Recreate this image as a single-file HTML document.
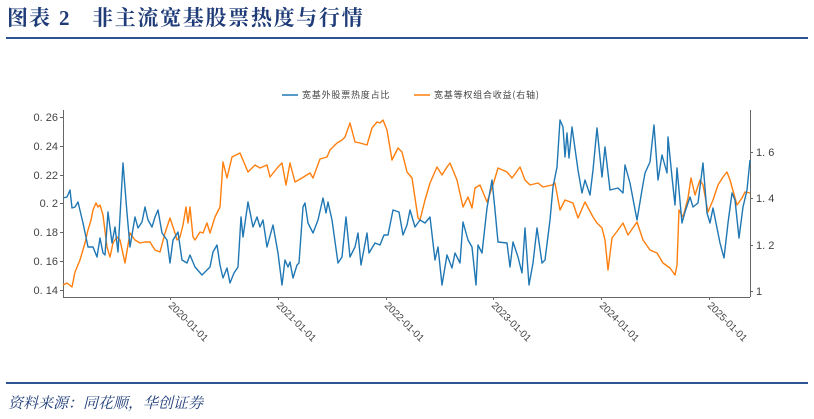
<!DOCTYPE html>
<html><head><meta charset="utf-8"><style>
body{margin:0;width:814px;height:414px;background:#fff;overflow:hidden;font-family:"Liberation Sans","Noto Sans CJK SC",sans-serif;}
</style></head><body>
<svg width="814" height="414" viewBox="0 0 814 414" xmlns="http://www.w3.org/2000/svg">
<g font-size="21" font-weight="bold" fill="#1f3c78" font-family="Liberation Serif,Noto Serif CJK SC,serif">
<text x="7" y="25" letter-spacing="1">图表</text>
<text x="59" y="25">2</text>
<text x="92" y="25" letter-spacing="1.7">非主流宽基股票热度与行情</text>
</g>
<rect x="6" y="37" width="802" height="2" fill="#2a5592"/>
<rect x="6" y="382" width="802" height="2" fill="#2a5592"/>
<text x="8" y="408" font-size="15" font-style="italic" fill="#1f3c78" font-family="Noto Serif CJK SC,serif">资料来源：同花顺，华创证券</text>
<g font-size="9" fill="#444" font-family="Noto Sans CJK SC,sans-serif">
<line x1="282" y1="95" x2="298" y2="95" stroke="#1f77b4" stroke-width="1.5"/>
<text x="302" y="98" letter-spacing="0.8">宽基外股票热度占比</text>
<line x1="414" y1="95" x2="430" y2="95" stroke="#ff7f0e" stroke-width="1.5"/>
<text x="434" y="98" letter-spacing="0.8">宽基等权组合收益(右轴)</text>
</g>
<g stroke="#666" stroke-width="1" fill="none">
<line x1="63.5" y1="110" x2="63.5" y2="297"/>
<line x1="63" y1="297.5" x2="750" y2="297.5"/>
<line x1="750.5" y1="110" x2="750.5" y2="297"/>
<path d="M60 117.5h3M60 146.5h3M60 175.5h3M60 203.5h3M60 232.5h3M60 261.5h3M60 290.5h3M750 152.5h3M750 198.5h3M750 245.5h3M750 291.5h3M170.5 297v3M278.5 297v3M386.5 297v3M493.5 297v3M601.5 297v3M709.5 297v3"/>
</g>
<g font-size="11" fill="#444" text-anchor="end">
<text x="58" y="121">0. 26</text><text x="58" y="150">0. 24</text><text x="58" y="179">0. 22</text><text x="58" y="207">0. 2</text><text x="58" y="236">0. 18</text><text x="58" y="265">0. 16</text><text x="58" y="294">0. 14</text>
</g>
<g font-size="11" fill="#444">
<text x="756" y="156">1. 6</text><text x="756" y="202">1. 4</text><text x="756" y="249">1. 2</text><text x="756" y="295">1</text>
</g>
<g font-size="10" fill="#444">
<text transform="translate(168,306) rotate(45)">2020-01-01</text>
<text transform="translate(276,306) rotate(45)">2021-01-01</text>
<text transform="translate(384,306) rotate(45)">2022-01-01</text>
<text transform="translate(491,306) rotate(45)">2023-01-01</text>
<text transform="translate(599,306) rotate(45)">2024-01-01</text>
<text transform="translate(707,306) rotate(45)">2025-01-01</text>
</g>
<polyline fill="none" stroke="#ff7f0e" stroke-width="1.4" stroke-linejoin="round" points="63,285 67,283 72,287 75,272 80,260 85,243 88,230 91,220 93,210 96,203 98,207 100,205 103,215 107,247 110,257 113,243 117,237 120,240 125,263 130,233 135,240 140,243 145,242 150,242 155,250 160,252 165,233 170,218 175,233 177,240 180,237 183,225 186,207 188,223 190,207 193,237 195,240 200,232 203,233 207,223 210,233 215,217 220,207 223,162 227,178 232,157 240,153 248,172 255,165 260,168 267,165 270,177 278,167 282,163 286,185 290,163 295,182 302,178 310,173 313,178 320,159 327,157 330,150 337,143 342,140 345,137 350,123 355,142 360,143 367,145 372,128 377,122 380,123 383,120 387,130 392,160 398,148 402,152 407,172 412,178 418,218 420,220 425,200 430,183 437,167 442,175 447,167 450,163 457,180 463,207 468,197 472,208 475,188 480,185 487,202 493,185 498,168 507,172 512,178 520,167 525,180 530,185 538,183 543,187 552,185 555,183 560,210 565,200 573,203 578,218 585,202 593,217 597,223 602,228 605,240 608,270 612,238 618,230 623,223 628,235 637,222 643,240 650,250 657,253 663,263 670,268 675,275 677,265 679,210 683,217 688,198 691,178 695,195 700,180 703,185 708,212 713,200 718,185 723,177 727,172 730,180 737,205 742,198 745,192 750,193"/>
<polyline fill="none" stroke="#1f77b4" stroke-width="1.4" stroke-linejoin="round" points="63,198 67,197 70,190 72,208 75,207 78,202 83,223 88,247 93,247 97,257 100,238 103,253 105,255 108,212 112,243 115,227 118,252 123,163 127,213 130,247 135,217 138,228 142,222 145,207 148,220 152,227 155,217 158,210 162,233 167,240 170,263 173,240 178,232 182,260 187,263 190,255 195,267 202,275 205,272 210,267 213,252 217,245 220,265 223,278 227,268 230,283 234,273 238,267 241,217 243,237 248,202 253,227 257,217 260,227 263,220 267,247 273,225 278,253 282,285 285,260 288,267 290,262 293,278 297,265 299,263 303,207 305,203 308,223 313,233 318,220 323,198 326,213 328,202 332,220 338,263 342,257 346,217 350,257 355,247 358,233 361,265 367,233 369,253 375,243 380,245 384,235 388,235 393,210 399,212 403,235 407,225 410,210 415,227 420,220 425,223 430,217 435,260 438,247 442,285 447,255 452,268 455,253 460,263 463,222 468,240 472,247 476,285 478,245 482,253 487,208 492,180 495,210 498,242 507,243 510,267 513,242 518,257 522,273 525,228 529,285 533,263 537,228 542,263 545,260 550,220 553,187 557,167 560,120 563,127 565,157 567,133 569,158 572,127 578,170 582,193 585,180 590,195 593,170 597,128 602,177 605,147 610,190 618,188 623,193 625,165 630,183 637,220 642,190 645,173 650,162 654,125 658,180 662,155 667,173 668,137 672,177 675,205 677,168 682,223 685,212 690,197 693,207 698,203 703,163 707,213 710,223 713,208 720,243 724,258 728,223 732,193 735,200 739,238 743,207 747,190 750,160"/>
</svg>
</body></html>
